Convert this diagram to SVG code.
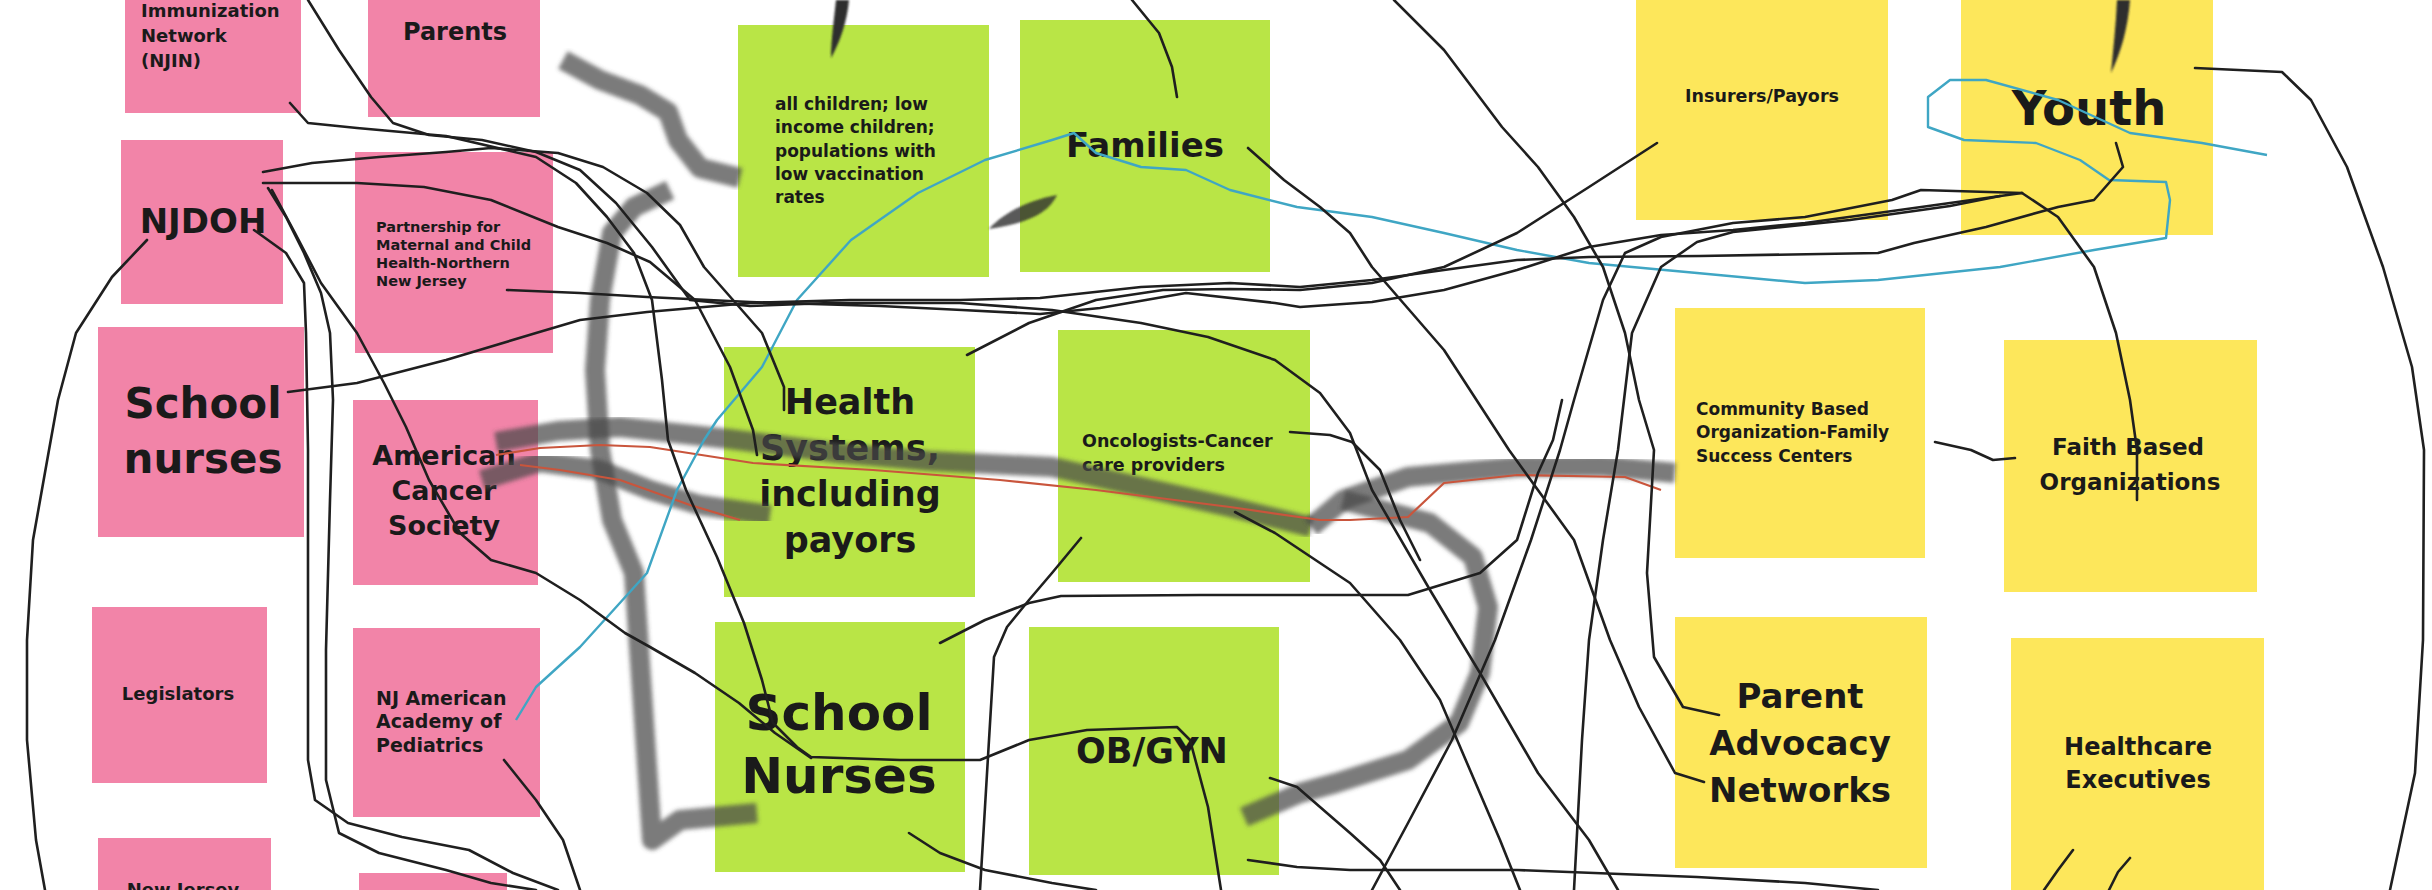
<svg xmlns="http://www.w3.org/2000/svg" width="2432" height="890" viewBox="0 0 2432 890">
<style>
.pk{fill:#F284A8}
.gr{fill:#B9E546}
.ye{fill:#FDE75B}
text{font-family:"DejaVu Sans","Liberation Sans",sans-serif;font-weight:bold;fill:#1a1a1a}
.c{text-anchor:middle}
.ln{fill:none;stroke:#1f1f1f;stroke-width:2.6;stroke-linejoin:round;stroke-linecap:round}
.br{fill:none;stroke:#4a4a4a;stroke-opacity:0.72;stroke-width:20;stroke-linejoin:round;stroke-linecap:butt;filter:url(#soft)}
.tp{fill:#2e2e2e;filter:url(#soft1)}
.rd{fill:none;stroke:#c9553c;stroke-width:2.2;stroke-linejoin:round}
.bl{fill:none;stroke:#3fa6c4;stroke-width:2.4;stroke-linejoin:round}
</style>
<defs>
<filter id="soft" x="-10%" y="-10%" width="120%" height="120%"><feGaussianBlur stdDeviation="2.2"/></filter>
<filter id="soft1" x="-20%" y="-20%" width="140%" height="140%"><feGaussianBlur stdDeviation="0.8"/></filter>
</defs>
<rect width="2432" height="890" fill="#ffffff"/>

<g id="node-njin"><rect class="pk" x="125" y="0" width="176" height="113"/>
<text x="141" y="17" font-size="18">Immunization</text><text x="141" y="42" font-size="18">Network</text><text x="141" y="67" font-size="18">(NJIN)</text></g>
<g id="node-parents"><rect class="pk" x="368" y="0" width="172" height="117"/>
<text class="c" x="455" y="40" font-size="24">Parents</text></g>
<g id="node-njdoh"><rect class="pk" x="121" y="140" width="162" height="164"/>
<text class="c" x="203" y="233" font-size="34">NJDOH</text></g>
<g id="node-school-nurses-pink"><rect class="pk" x="98" y="327" width="206" height="210"/>
<text class="c" x="203" y="418" font-size="42">School</text><text class="c" x="203" y="473" font-size="42">nurses</text></g>
<g id="node-legislators"><rect class="pk" x="92" y="607" width="175" height="176"/>
<text class="c" x="178" y="700" font-size="18">Legislators</text></g>
<g id="node-new-jersey"><rect class="pk" x="98" y="838" width="173" height="60"/>
<text class="c" x="183" y="896" font-size="18">New Jersey</text></g>
<g id="node-partnership"><rect class="pk" x="355" y="152" width="198" height="201"/>
<text x="376" y="232" font-size="14.5">Partnership for</text><text x="376" y="250" font-size="14.5">Maternal and Child</text><text x="376" y="268" font-size="14.5">Health-Northern</text><text x="376" y="286" font-size="14.5">New Jersey</text></g>
<g id="node-acs"><rect class="pk" x="353" y="400" width="185" height="185"/>
<text class="c" x="444" y="465" font-size="27">American</text><text class="c" x="444" y="500" font-size="27">Cancer</text><text class="c" x="444" y="535" font-size="27">Society</text></g>
<g id="node-njaap"><rect class="pk" x="353" y="628" width="187" height="189"/>
<text x="376" y="705" font-size="19">NJ American</text><text x="376" y="728" font-size="19">Academy of</text><text x="376" y="752" font-size="19">Pediatrics</text></g>
<g id="node-pink-bottom"><rect class="pk" x="359" y="873" width="148" height="30"/></g>

<g id="node-all-children"><rect class="gr" x="738" y="25" width="251" height="252"/>
<text x="775" y="110" font-size="17">all children; low</text><text x="775" y="133" font-size="17">income children;</text><text x="775" y="157" font-size="17">populations with</text><text x="775" y="180" font-size="17">low vaccination</text><text x="775" y="203" font-size="17">rates</text></g>
<g id="node-families"><rect class="gr" x="1020" y="20" width="250" height="252"/>
<text class="c" x="1145" y="157" font-size="34">Families</text></g>
<g id="node-health-systems"><rect class="gr" x="724" y="347" width="251" height="250"/>
<text class="c" x="850" y="414" font-size="35">Health</text><text class="c" x="850" y="460" font-size="35">Systems,</text><text class="c" x="850" y="506" font-size="35">including</text><text class="c" x="850" y="552" font-size="35">payors</text></g>
<g id="node-oncologists"><rect class="gr" x="1058" y="330" width="252" height="252"/>
<text x="1082" y="447" font-size="17.5">Oncologists-Cancer</text><text x="1082" y="471" font-size="17.5">care providers</text></g>
<g id="node-school-nurses-green"><rect class="gr" x="715" y="622" width="250" height="250"/>
<text class="c" x="839" y="730" font-size="50">School</text><text class="c" x="839" y="793" font-size="50">Nurses</text></g>
<g id="node-obgyn"><rect class="gr" x="1029" y="627" width="250" height="248"/>
<text class="c" x="1152" y="763" font-size="35">OB/GYN</text></g>

<g id="node-insurers"><rect class="ye" x="1636" y="0" width="252" height="220"/>
<text class="c" x="1762" y="102" font-size="17.5">Insurers/Payors</text></g>
<g id="node-youth"><rect class="ye" x="1961" y="0" width="252" height="235"/>
<text class="c" x="2089" y="125" font-size="48">Youth</text></g>
<g id="node-community"><rect class="ye" x="1675" y="308" width="250" height="250"/>
<text x="1696" y="415" font-size="17">Community Based</text><text x="1696" y="438" font-size="17">Organization-Family</text><text x="1696" y="462" font-size="17">Success Centers</text></g>
<g id="node-faith"><rect class="ye" x="2004" y="340" width="253" height="252"/>
<text class="c" x="2128" y="455" font-size="23">Faith Based</text><text class="c" x="2130" y="490" font-size="23">Organizations</text></g>
<g id="node-parent-advocacy"><rect class="ye" x="1675" y="617" width="252" height="251"/>
<text class="c" x="1800" y="708" font-size="34">Parent</text><text class="c" x="1800" y="755" font-size="34">Advocacy</text><text class="c" x="1800" y="802" font-size="34">Networks</text></g>
<g id="node-healthcare-exec"><rect class="ye" x="2011" y="638" width="253" height="260"/>
<text class="c" x="2138" y="755" font-size="24">Healthcare</text><text class="c" x="2138" y="788" font-size="24">Executives</text></g>

<g id="connectors">
<!-- grey brush strokes -->
<polyline class="br" stroke-width="22" points="563,60 600,80 640,95 668,112 678,140 700,168 740,178"/>
<polyline class="br" points="670,190 634,207 612,233 600,300 595,370 600,450 612,520 634,573 643,707 652,840 680,820 757,813"/>
<polyline class="br" stroke-width="22" points="496,442 558,431 620,427 729,439 838,453 930,461 1052,467 1141,487 1230,507 1311,527"/>
<polyline class="br" stroke-width="18" points="482,480 540,462 600,470 650,490 700,505 770,515"/>
<polyline class="br" points="1675,473 1600,466 1517,467 1408,477 1343,500 1311,527"/>
<polyline class="br" points="1343,500 1430,523 1473,557 1488,607 1480,673 1459,723 1408,760 1336,783 1300,793 1244,817"/>
<path class="tp" d="M836,0 L849,0 C847,22 840,42 831,58 C831,40 834,20 836,0 Z"/>
<path class="tp" fill-opacity="0.8" d="M989,229 C1004,212 1030,200 1057,195 C1049,212 1030,223 989,229 Z"/>
<path class="tp" d="M2117,0 L2130,0 C2128,28 2121,52 2111,73 C2113,50 2116,25 2117,0 Z"/>
<!-- red -->
<polyline class="rd" points="496,455 540,448 600,445 650,447 753,463 873,470 1000,480 1096,490 1230,507 1320,520 1350,520 1408,517 1444,483 1517,475 1625,477 1661,490"/>
<polyline class="rd" points="520,465 560,470 620,480 690,505 740,520"/>
<!-- blue -->
<polyline class="bl" points="516,720 536,687 580,647 647,573 677,490 704,440 717,420 762,367 797,300 851,240 918,193 985,160 1052,140 1074,133 1096,153 1141,167 1186,170 1230,190 1297,207 1372,217 1444,233 1517,250 1589,263 1697,273 1805,283 1878,280 2000,267 2094,250 2166,238 2170,200 2166,182 2109,180 2080,160 2036,143 1964,140 1928,127 1928,97 1950,80 1986,80 2058,100 2130,133 2202,143 2267,155"/>
<!-- black hand-drawn lines -->
<polyline class="ln" points="308,0 339,50 371,97 393,123 429,135 482,140 536,152 580,170 616,203 652,247 690,300 750,306 830,303 960,303 1052,310 1141,323 1208,337 1275,360 1320,393 1350,433 1372,490 1430,590 1480,673 1538,773 1589,840 1618,890"/>
<polyline class="ln" points="290,103 308,123 357,128 446,136 536,157 576,183 607,217 634,253 652,300 662,380 668,440 686,490 717,557 744,623 762,680 773,723 797,747 811,757 900,760 980,760 1029,740 1087,730 1177,727 1190,740 1208,807 1221,890"/>
<polyline class="ln" points="263,172 312,163 379,157 446,152 491,148 558,153 603,167 647,193 680,225 704,267 762,333 784,387 784,410"/>
<polyline class="ln" points="263,183 357,183 424,187 491,200 558,227 607,243 650,262 695,300 730,367 753,430 757,455"/>
<polyline class="ln" points="254,230 286,253 304,283 306,333 308,450 308,600 308,760 315,800 348,823 402,837 469,850 513,873 558,890"/>
<polyline class="ln" points="268,188 286,217 304,253 321,293 330,333 333,400 330,500 326,650 326,780 339,833 379,853 446,870 491,883 536,890"/>
<polyline class="ln" points="272,190 295,233 321,283 357,333 384,383 406,427 429,480 460,533 491,560 536,573 580,600 625,633 650,647 695,673 739,703 775,733 811,758"/>
<polyline class="ln" points="147,240 112,277 76,333 58,400 49,450 33,540 27,640 27,740 36,840 45,890"/>
<polyline class="ln" points="288,392 357,383 446,360 536,333 580,320 647,312 750,303 850,300 960,300 1040,298 1141,287 1230,283 1300,287 1372,280 1444,270 1517,260 1589,257 1700,256 1878,253 1914,243 1986,227 2058,207 2094,200 2123,167 2116,143"/>
<polyline class="ln" points="507,290 580,293 647,297 750,302 880,306 962,310 1040,314 1100,308 1186,293 1275,303 1300,307 1372,302 1444,290 1517,270 1589,247 1661,235 1733,230 1805,223 1878,213 1950,203 2022,193"/>
<polyline class="ln" points="967,355 1029,323 1096,300 1163,290 1230,289 1300,290 1372,283 1444,267 1517,233 1589,187 1657,143"/>
<polyline class="ln" points="2022,193 1921,190 1892,200 1805,217 1733,223 1661,237 1625,253 1603,300 1574,400 1560,450 1531,540 1495,640 1452,740 1408,823 1372,890"/>
<polyline class="ln" points="2000,196 1950,206 1850,220 1733,232 1697,242 1661,267 1632,333 1618,450 1603,540 1589,640 1582,740 1574,890"/>
<polyline class="ln" points="2022,193 2058,217 2094,267 2116,333 2130,400 2137,450 2137,500"/>
<polyline class="ln" points="2195,68 2282,72 2311,100 2347,167 2383,267 2412,367 2424,450 2423,640 2415,773 2390,890"/>
<polyline class="ln" points="1394,0 1444,50 1502,127 1538,167 1574,217 1603,267 1625,333 1639,400 1654,450 1647,573 1654,657 1683,707 1719,715"/>
<polyline class="ln" points="1248,148 1284,180 1320,207 1350,233 1372,267 1444,350 1509,450 1574,540 1610,640 1639,707 1675,773 1704,782"/>
<polyline class="ln" points="1132,0 1159,33 1172,67 1177,97"/>
<polyline class="ln" points="1081,538 1052,573 1029,600 1007,627 994,657 989,740 985,807 980,890"/>
<polyline class="ln" points="940,643 985,620 1029,603 1061,596 1200,595 1300,595 1408,595 1480,573 1517,540 1538,473 1553,440 1562,400"/>
<polyline class="ln" points="909,833 940,853 985,870 1052,883 1096,890"/>
<polyline class="ln" points="1270,778 1297,787 1320,807 1350,833 1380,860 1400,890"/>
<polyline class="ln" points="1248,860 1297,867 1350,870 1517,870 1697,877 1805,883 1878,890"/>
<polyline class="ln" points="1235,512 1275,533 1320,563 1350,583 1400,640 1440,700 1470,770 1500,840 1520,890"/>
<polyline class="ln" points="1290,432 1330,435 1352,442 1380,470 1400,520 1420,560"/>
<polyline class="ln" points="1935,442 1971,450 1993,460 2015,458"/>
<polyline class="ln" points="504,760 536,800 563,840 580,890"/>
<polyline class="ln" points="2073,850 2058,870 2044,890"/>
<polyline class="ln" points="2130,858 2118,872 2109,890"/>
</g>
</svg>
